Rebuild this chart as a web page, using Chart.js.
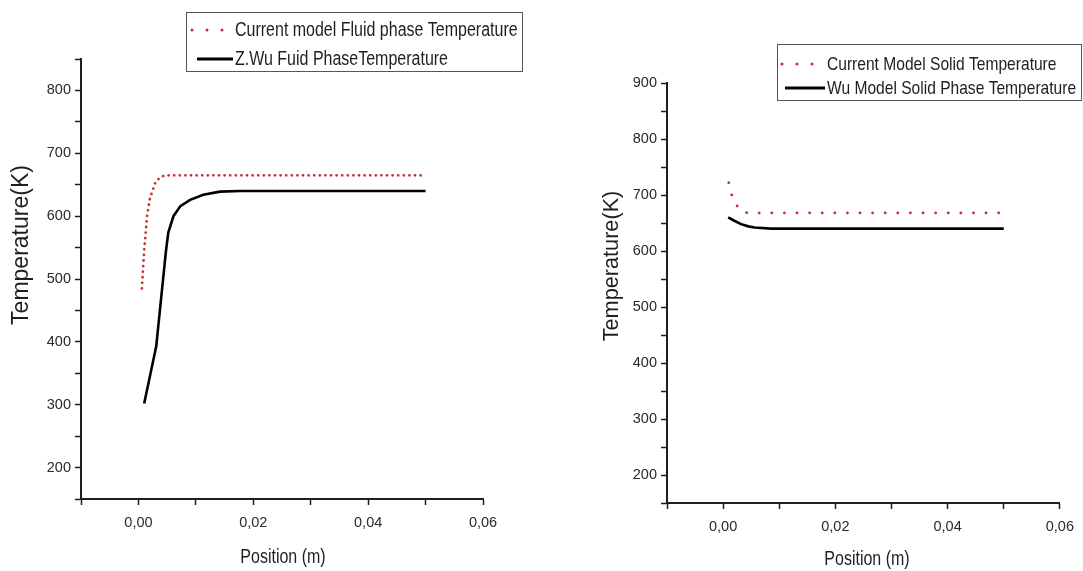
<!DOCTYPE html>
<html>
<head>
<meta charset="utf-8">
<script src="https://cdn.jsdelivr.net/npm/chart.js@4.4.1/dist/chart.umd.min.js"></script>
<style>
  html, body { margin: 0; padding: 0; background: #fff; width: 1083px; height: 571px; overflow: hidden; }
  canvas { position: absolute; top: 0; }
  #fluidChart { left: 0; }
  #solidChart { left: 580px; }
</style>
</head>
<body>
<canvas id="fluidChart" width="541" height="571"></canvas>
<canvas id="solidChart" width="503" height="571"></canvas>
<script>
// ---- Fluid phase temperature along the bed ----
const fluidCurrentPos  = [0.0006, 0.0008, 0.001, 0.0015, 0.002, 0.003, 0.004, 0.005, 0.05];
const fluidCurrentTemp = [485, 515, 545, 600, 628, 655, 663, 665, 665];
const fluidWuPos  = [0.001, 0.0031, 0.0048, 0.0052, 0.0061, 0.0073, 0.009, 0.0113, 0.0142, 0.0177, 0.05];
const fluidWuTemp = [302, 393, 545, 574, 600, 616, 626, 634, 639, 640, 640];

// ---- Solid phase temperature along the bed ----
const solidCurrentPos  = [0.001, 0.0018, 0.0034, 0.005, 0.05];
const solidCurrentTemp = [722, 689, 669, 668, 668];
const solidWuPos  = [0.0009, 0.002, 0.0032, 0.0045, 0.0056, 0.0085, 0.05];
const solidWuTemp = [660, 654, 648, 644, 642, 640, 640];

// ---- Labels ----
const fluidLabels = ['Current model Fluid phase Temperature', 'Z.Wu Fuid PhaseTemperature'];
const solidLabels = ['Current Model Solid Temperature', 'Wu Model Solid Phase Temperature'];
const xTitle = 'Position (m)';
const yTitle = 'Temperature(K)';

const SANS = '"Liberation Sans", Arial, sans-serif';
const NARROW_SCALE = 0.82;   // condensed face: Arial widths x 0.82
const INK = '#1e1e1e';
const RED = '#c4302f';

const points = (xs, ys) => xs.map((x, i) => ({ x, y: ys[i] }));

// text in a condensed sans: the regular face squeezed horizontally
function narrowText(ctx, text, x, y, size, align) {
  ctx.save();
  ctx.translate(x, y);
  ctx.scale(NARROW_SCALE, 1);
  ctx.font = size + 'px ' + SANS;
  ctx.textAlign = align;
  ctx.textBaseline = 'middle';
  ctx.fillStyle = INK;
  ctx.fillText(text, 0, 0);
  ctx.restore();
}

// framed legend in the upper right of each panel
const boxLegend = {
  id: 'boxLegend',
  afterDraw(chart, args, o) {
    const { ctx } = chart;
    ctx.save();
    ctx.strokeStyle = '#555';
    ctx.lineWidth = 1;
    ctx.strokeRect(o.x + 0.5, o.y + 0.5, o.w, o.h);
    chart.data.datasets.forEach((ds, i) => {
      const cy = o.rows[i];
      ctx.beginPath();
      ctx.strokeStyle = ds.borderColor;
      ctx.lineWidth = 3;
      if (ds.borderDash) {
        ctx.lineCap = 'round';
        ctx.setLineDash([0, 15]);
        ctx.moveTo(o.x + o.dotFrom, cy);
        ctx.lineTo(o.x + o.dotFrom + 31, cy);
      } else {
        ctx.lineCap = 'butt';
        ctx.setLineDash([]);
        ctx.moveTo(o.x + o.lineFrom, cy);
        ctx.lineTo(o.x + o.lineTo, cy);
      }
      ctx.stroke();
      ctx.setLineDash([]);
      narrowText(ctx, ds.label, o.x + o.textX, cy + 1, o.fontSize, 'left');
    });
    ctx.restore();
  }
};

// axis titles placed beside the axes
const axisTitles = {
  id: 'axisTitles',
  afterDraw(chart, args, o) {
    const { ctx } = chart;
    narrowText(ctx, xTitle, o.xAt[0], o.xAt[1], o.xSize, 'center');
    ctx.save();
    ctx.fillStyle = INK;
    ctx.textAlign = 'center';
    ctx.textBaseline = 'middle';
    ctx.translate(o.yAt[0], o.yAt[1]);
    ctx.rotate(-Math.PI / 2);
    ctx.font = o.ySize + 'px ' + SANS;
    ctx.fillText(yTitle, 0, 0);
    ctx.restore();
  }
};

function xTickLabel(v) {
  const k = Math.round(v * 100);
  return (k >= 0 && k % 2 === 0) ? (k / 100).toFixed(2).replace('.', ',') : '';
}
function yTickLabel(v) {
  return Math.round(v) % 100 === 0 ? String(Math.round(v)) : '';
}

function scales(yMin, yMax, yWidth, xHeight) {
  const grid = {
    drawOnChartArea: false,
    drawTicks: true,
    tickLength: 6,
    color: INK,
    tickWidth: 1.5
  };
  const tickFont = { family: SANS, size: 14.5 };
  return {
    x: {
      type: 'linear',
      min: -0.01,
      max: 0.06,
      ticks: { stepSize: 0.01, autoSkip: false, maxRotation: 0, callback: xTickLabel,
               font: tickFont, color: '#2a2a2a', padding: 9 },
      grid,
      border: { display: true, color: INK, width: 2 },
      afterFit(s) { s.height = xHeight; }
    },
    y: {
      type: 'linear',
      min: yMin,
      max: yMax,
      ticks: { stepSize: 50, autoSkip: false, callback: yTickLabel,
               font: tickFont, color: '#2a2a2a', padding: 4 },
      grid,
      border: { display: true, color: INK, width: 2 },
      afterFit(s) { s.width = yWidth; }
    }
  };
}

function dotted(label, xs, ys, gap) {
  return {
    label, data: points(xs, ys),
    borderColor: RED, borderWidth: 2.8, borderDash: [0, gap], borderCapStyle: 'round',
    pointRadius: 0, fill: false, tension: 0
  };
}
function solid(label, xs, ys) {
  return {
    label, data: points(xs, ys),
    borderColor: '#000', borderWidth: 2.6, borderCapStyle: 'butt',
    pointRadius: 0, fill: false, tension: 0
  };
}

new Chart(document.getElementById('fluidChart'), {
  type: 'line',
  data: {
    datasets: [
      dotted(fluidLabels[0], fluidCurrentPos, fluidCurrentTemp, 5.6),
      solid(fluidLabels[1], fluidWuPos, fluidWuTemp)
    ]
  },
  options: {
    responsive: false,
    animation: false,
    layout: { padding: { left: 0, top: 59, right: 58, bottom: 0 } },
    scales: scales(150, 850, 81, 72),
    plugins: {
      legend: { display: false },
      tooltip: { enabled: false },
      boxLegend: { x: 186, y: 12, w: 336, h: 59, rows: [30, 59], dotFrom: 6, lineFrom: 11, lineTo: 47, textX: 49, fontSize: 19.5 },
      axisTitles: { xAt: [283, 558], yAt: [22, 245], xSize: 19.5, ySize: 23 }
    }
  },
  plugins: [boxLegend, axisTitles]
});

new Chart(document.getElementById('solidChart'), {
  type: 'line',
  data: {
    datasets: [
      dotted(solidLabels[0], solidCurrentPos, solidCurrentTemp, 12.6),
      solid(solidLabels[1], solidWuPos, solidWuTemp)
    ]
  },
  options: {
    responsive: false,
    animation: false,
    layout: { padding: { left: 0, top: 83, right: 18, bottom: 0 } },
    scales: scales(150, 900, 87, 68),
    plugins: {
      legend: { display: false },
      tooltip: { enabled: false },
      boxLegend: { x: 197, y: 44, w: 304, h: 56, rows: [64, 88], dotFrom: 5, lineFrom: 8, lineTo: 48, textX: 50, fontSize: 19 },
      axisTitles: { xAt: [287, 560], yAt: [32, 266], xSize: 19.5, ySize: 21.7 }
    }
  },
  plugins: [boxLegend, axisTitles]
});
</script>
</body>
</html>
